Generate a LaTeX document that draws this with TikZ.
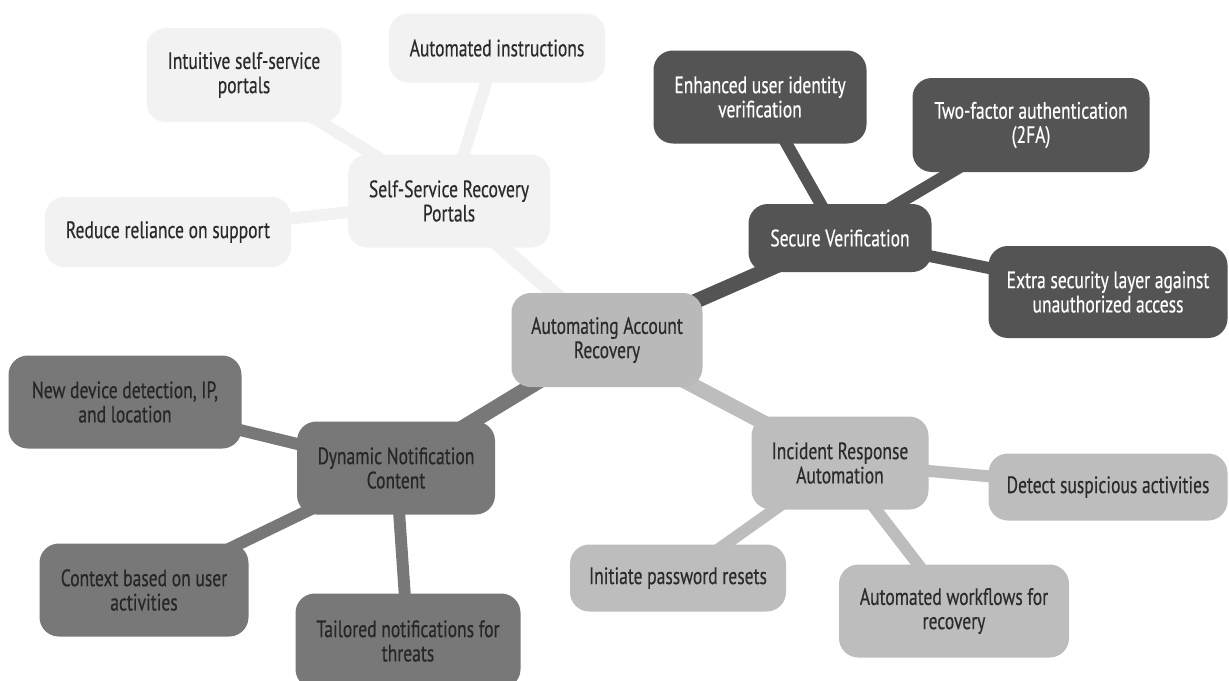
\documentclass[tikz,border=0pt]{standalone}
\usepackage{fontspec}
\setmainfont{PT Sans}[FakeStretch=0.74, FakeBold=0.4]
\usetikzlibrary{backgrounds}

\definecolor{palegray}{HTML}{F2F2F2}
\definecolor{rootgray}{HTML}{B9B9B9}
\definecolor{incgray}{HTML}{BDBDBD}
\definecolor{secgray}{HTML}{545454}
\definecolor{dyngray}{HTML}{787878}
\definecolor{inkgray}{HTML}{2B2B2B}

\tikzset{
  box/.style={rounded corners=11pt, align=center, inner sep=2pt,
    font=\fontsize{13.5}{13.8}\selectfont, text=inkgray},
  sz/.style 2 args={minimum width=#1*0.02cm, minimum height=#2*0.02cm},
  selfbox/.style={box, fill=palegray},
  rootbox/.style={box, fill=rootgray},
  incbox/.style={box, fill=incgray},
  secbox/.style={box, fill=secgray, text=white},
  dynbox/.style={box, fill=dyngray, text=black!85},
  trunk/.style={line width=8.5pt},
  twig/.style={line width=6.8pt}
}

\begin{document}
\begin{tikzpicture}[x=0.02cm, y=-0.02cm]
  \useasboundingbox (0,0) rectangle (1229,680);

  % center
  \node[rootbox, sz={191}{94}] (root) at (607,340) {Automating Account\\Recovery};

  % main branches
  \node[selfbox, sz={202}{93}] (self) at (449,201) {Self-Service Recovery\\Portals};
  \node[secbox, sz={183}{68}] (sec) at (840,238) {Secure Verification};
  \node[dynbox, sz={198}{93}] (dyn) at (396,468) {Dynamic Notification\\Content};
  \node[incbox, sz={177}{93}] (inc) at (840,463) {Incident Response\\Automation};

  % leaves
  \foreach \nm/\x/\y/\w/\h/\t in
  {intu/244/75/195/94/{Intuitive self-service\\portals},
   instr/497/48/216/69/{Automated instructions},
   reduce/168/232/246/70/{Reduce reliance on support}}
  {\node[selfbox, sz={\w}{\h}] (\nm) at (\x,\y) {\t};}

  \foreach \nm/\x/\y/\w/\h/\t in
  {enh/760/97/213/93/{Enhanced user identity\\verification},
   twofa/1031/125/237/94/{Two-factor authentication\\(2FA)},
   extra/1108/292/239/92/{Extra security layer against\\unauthorized access}}
  {\node[secbox, sz={\w}{\h}] (\nm) at (\x,\y) {\t};}

  \foreach \nm/\x/\y/\w/\h/\t in
  {newdev/125/402/233/93/{New device detection, IP,\\and location},
   context/144/590/209/93/{Context based on user\\activities},
   tailor/408/641/225/95/{Tailored notifications for\\threats}}
  {\node[dynbox, sz={\w}{\h}] (\nm) at (\x,\y) {\t};}

  \foreach \nm/\x/\y/\w/\h/\t in
  {detect/1108/487/239/67/{Detect suspicious activities},
   reset/678/578/216/67/{Initiate password resets},
   flow/954/611/230/93/{Automated workflows for\\recovery}}
  {\node[incbox, sz={\w}{\h}] (\nm) at (\x,\y) {\t};}

  % connectors
  \begin{scope}[on background layer]
    \draw[trunk, palegray] (root.center) -- (self.center);
    \draw[trunk, secgray] (root.center) -- (sec.center);
    \draw[trunk, dyngray] (root.center) -- (dyn.center);
    \draw[trunk, incgray] (root.center) -- (inc.center);
    \foreach \n in {intu,instr,reduce}
    {\draw[twig, palegray] (self.center) -- (\n.center);}
    \foreach \n in {enh,twofa,extra}
    {\draw[twig, secgray] (sec.center) -- (\n.center);}
    \foreach \n in {newdev,context,tailor}
    {\draw[twig, dyngray] (dyn.center) -- (\n.center);}
    \foreach \n in {detect,reset,flow}
    {\draw[twig, incgray] (inc.center) -- (\n.center);}
  \end{scope}
\end{tikzpicture}
\end{document}
